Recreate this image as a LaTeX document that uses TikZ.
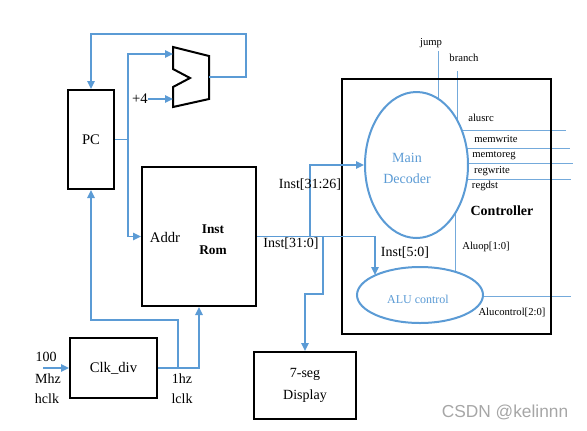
\documentclass[tikz,border=0pt]{standalone}
\usepackage{fontspec}
\setmainfont{Liberation Serif}
\newfontfamily\wmfont{Liberation Sans}
\usetikzlibrary{arrows.meta,shapes.geometric,backgrounds}
\definecolor{wireblue}{RGB}{91,155,213}
\tikzset{
  blockbox/.style={draw=black, line width=1.5pt, inner sep=0pt},
  unit/.style={ellipse, draw=wireblue, line width=1.5pt, fill=white, inner sep=0pt},
  wire/.style={draw=wireblue, line width=1.4pt},
  arr/.style={-{Triangle[length=6pt,width=5.5pt]}},
  sigline/.style={draw=wireblue!85, line width=0.6pt},
  siglabel/.style={font=\fontsize{8}{9}\selectfont, inner sep=0pt},
  lbl/.style={font=\fontsize{10.5}{12}\selectfont, inner sep=0pt},
  bluetext/.style={text=wireblue, inner sep=0pt}
}
\begin{document}
\begin{tikzpicture}[x=0.75pt,y=-0.75pt]
    \useasboundingbox (0,0) rectangle (587,430);

    % 方框
    \node[blockbox, minimum width=34.5pt, minimum height=74.25pt, font=\fontsize{11}{13}\selectfont] (pc) at (91,139.5) {PC};
    \node[blockbox, minimum width=85.5pt, minimum height=104.25pt] (rom) at (199,236.5) {};
    \node[blockbox, minimum width=65.25pt, minimum height=45pt, font=\fontsize{11}{13}\selectfont] (clk) at (113.5,368) {Clk\_div};
    \node[blockbox, minimum width=76.5pt, minimum height=50.25pt, align=center, font=\fontsize{10.5}{16.5}\selectfont] (seg) at (305,385.5) {7-seg\\Display};
    \node[blockbox, minimum width=156.75pt, minimum height=191.25pt] (ctrl) at (446.5,206.5) {};

    % 控制器内部的两个椭圆
    \node[unit, minimum width=77.25pt, minimum height=109.5pt] (dec) at (416.5,165) {};
    \node[unit, minimum width=94.5pt, minimum height=42pt] (alu) at (420,295) {};
    \node[bluetext, align=center, font=\fontsize{10.5}{15.75}\selectfont] (dectxt) at (407,168) {Main\\Decoder};
    \node[bluetext, font=\fontsize{9}{11}\selectfont] (alutxt) at (418,299) {ALU control};

    % 加法器
    \coordinate (addA) at (173,54);
    \coordinate (addB) at (173,99);
    \coordinate (addOut) at (209,77);
    \draw[line width=1.5pt, line join=miter]
        (173,47) -- (209,56) -- (209,99) -- (173,107) -- (173,87) -- (190,78) -- (173,69) -- cycle;

    % PC -> 加法器 / Addr
    \coordinate (pcsplit) at (128,139.5);
    \draw[wire,arr] (pc.east) -- (pcsplit) |- (addA);
    \draw[wire,arr] (pcsplit) |- (rom.west);
    \node[lbl, font=\fontsize{11}{13}\selectfont] (four) at (140,99) {+4};
    \draw[wire,arr] (four.east) -- (addB);

    % 加法器 -> PC
    \coordinate (fbR) at (246,34);
    \draw[wire,arr] (addOut) -| (fbR) -| (pc.north);

    % 时钟
    \coordinate (hin) at (43,368);
    \coordinate (lsplit) at (178,368);
    \coordinate (lturn) at (178,320);
    \draw[wire,arr] (hin) -- (clk.west);
    \draw[wire,arr] (clk.east) -| (rom.south);
    \draw[wire,arr] (lsplit) -- (lturn) -| (pc.south);

    % 指令分配
    \coordinate (isA) at (310,236.5);
    \coordinate (isB) at (323,236.5);
    \coordinate (iturn) at (323,294);
    \coordinate (aluin) at (375,275);
    \draw[wire,arr] (rom.east) -| (aluin);
    \draw[wire,arr] (isA) |- (dec.west);
    \draw[wire,arr] (isB) -- (iturn) -| (seg.north);

    % 控制信号线（放在背景层，被椭圆遮住）
    \begin{scope}[on background layer]
        \coordinate (jumpT) at (438,51);
        \coordinate (branchT) at (457,71);
        \coordinate (aluopT) at (455,240);
        \coordinate (aluctlR) at (571,296);
        \draw[sigline] (jumpT) -- (jumpT |- dec.center);
        \draw[sigline] (branchT) -- (branchT |- dec.center);
        \foreach \nm/\y/\xe in {alusrcR/130/566, memwriteR/148/570, memtoregR/163/573, regwriteR/179/571} {
            \coordinate (\nm) at (\xe,\y);
            \draw[sigline] (dec.center |- \nm) -- (\nm);
        }
        \draw[sigline] (aluopT |- dec.center) -- (aluopT |- alu.center);
        \draw[sigline] (alu.center |- aluctlR) -- (aluctlR);
    \end{scope}

    % 信号名
    \node[siglabel] (jumpL) at (431,43) {jump};
    \node[siglabel] (branchL) at (464,58) {branch};
    \node[siglabel] (alusrcL) at (481,118) {alusrc};
    \node[siglabel] (memwriteL) at (496,139) {memwrite};
    \node[siglabel] (memtoregL) at (494,156) {memtoreg};
    \node[siglabel] (regwriteL) at (492,171) {regwrite};
    \node[siglabel] (regdstL) at (485,186) {regdst};
    \node[siglabel] (aluopL) at (486,247) {Aluop[1:0]};
    \node[siglabel] (aluctlL) at (512,313) {Alucontrol[2:0]};

    % 其他文字
    \node[lbl] (i3126) at (310,185) {Inst[31:26]};
    \node[lbl] (i310) at (291,244) {Inst[31:0]};
    \node[lbl] (i50) at (405,253) {Inst[5:0]};
    \node[lbl, font=\bfseries\fontsize{10.5}{12}\selectfont] (ctrlL) at (502,211) {Controller};
    \node[lbl, font=\fontsize{11}{13}\selectfont] (addrL) at (165,237) {Addr};
    \node[lbl, align=center, font=\bfseries\fontsize{10}{15.75}\selectfont] (romL) at (213,239.5) {Inst\\Rom};
    \node[lbl] (l100) at (46,357) {100};
    \node[lbl] (lmhz) at (48,379) {Mhz};
    \node[lbl] (lhclk) at (47,399) {hclk};
    \node[lbl] (l1hz) at (182,379) {1hz};
    \node[lbl] (llclk) at (182,399) {lclk};
    \node[font=\wmfont\fontsize{13}{15}\selectfont, text=black!35, inner sep=0pt] (wm) at (505,412) {CSDN @kelinnn};
\end{tikzpicture}
\end{document}
